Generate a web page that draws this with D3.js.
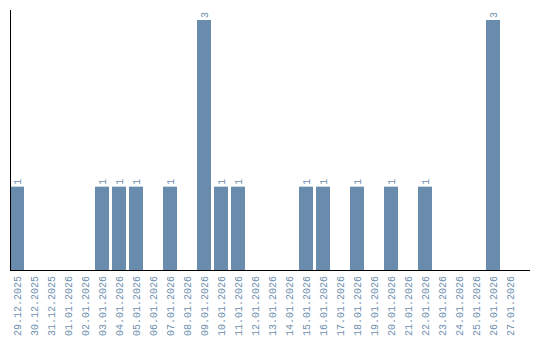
<!DOCTYPE html>
<html>
<head>
<meta charset="utf-8">
<script src="https://cdn.jsdelivr.net/npm/d3@7"></script>
<style>
  body { margin: 0; background: #fff; }
  text { font-family: "Liberation Mono", "Courier New", monospace; }
</style>
</head>
<body>
<div id="chart"></div>
<script>
const width = 540, height = 340;

const dates = [
  "29.12.2025", "30.12.2025", "31.12.2025", "01.01.2026", "02.01.2026",
  "03.01.2026", "04.01.2026", "05.01.2026", "06.01.2026", "07.01.2026",
  "08.01.2026", "09.01.2026", "10.01.2026", "11.01.2026", "12.01.2026",
  "13.01.2026", "14.01.2026", "15.01.2026", "16.01.2026", "17.01.2026",
  "18.01.2026", "19.01.2026", "20.01.2026", "21.01.2026", "22.01.2026",
  "23.01.2026", "24.01.2026", "25.01.2026", "26.01.2026", "27.01.2026"
];
const counts = [
  1, 0, 0, 0, 0,
  1, 1, 1, 0, 1,
  0, 3, 1, 1, 0,
  0, 0, 1, 1, 0,
  1, 0, 1, 0, 1,
  0, 0, 0, 3, 0
];

const barColor = "#6a8cac";
const textColor = "#6f8fae";

const data = dates.map((d, i) => ({ date: d, value: counts[i] }));

// step of 17px, bars 14px wide
const x = d3.scaleBand()
    .domain(dates)
    .range([10, 517])
    .paddingInner(3 / 17)
    .paddingOuter(0);

const y = d3.scaleLinear()
    .domain([0, d3.max(counts)])
    .range([270, 20]);

const svg = d3.select("#chart").append("svg")
    .attr("width", width)
    .attr("height", height);

// bars
svg.append("g")
  .selectAll("rect")
  .data(data.filter(d => d.value > 0))
  .enter()
  .append("rect")
    .attr("x", d => x(d.date))
    .attr("y", d => y(d.value))
    .attr("width", x.bandwidth())
    .attr("height", d => y(0) - y(d.value))
    .attr("fill", barColor);

// value labels
svg.append("g")
  .selectAll("text")
  .data(data.filter(d => d.value > 0))
  .enter()
  .append("text")
    .attr("transform", d => `translate(${x(d.date) + x.bandwidth() / 2}, ${y(d.value) - 2}) rotate(-90)`)
    .attr("dy", "0.35em")
    .attr("text-anchor", "start")
    .attr("font-size", 10)
    .attr("fill", textColor)
    .text(d => d.value);

// x tick labels
svg.append("g")
  .selectAll("text")
  .data(dates)
  .enter()
  .append("text")
    .attr("transform", d => `translate(${x(d) + x.bandwidth() / 2}, 276) rotate(-90)`)
    .attr("dy", "0.35em")
    .attr("text-anchor", "end")
    .attr("font-size", 10)
    .attr("fill", textColor)
    .text(d => d);

// axes lines
svg.append("line")
    .attr("x1", 10.5).attr("x2", 10.5)
    .attr("y1", 10).attr("y2", 270)
    .attr("stroke", "#000");

svg.append("line")
    .attr("x1", 10).attr("x2", 530)
    .attr("y1", 270.5).attr("y2", 270.5)
    .attr("stroke", "#000");
</script>
</body>
</html>
